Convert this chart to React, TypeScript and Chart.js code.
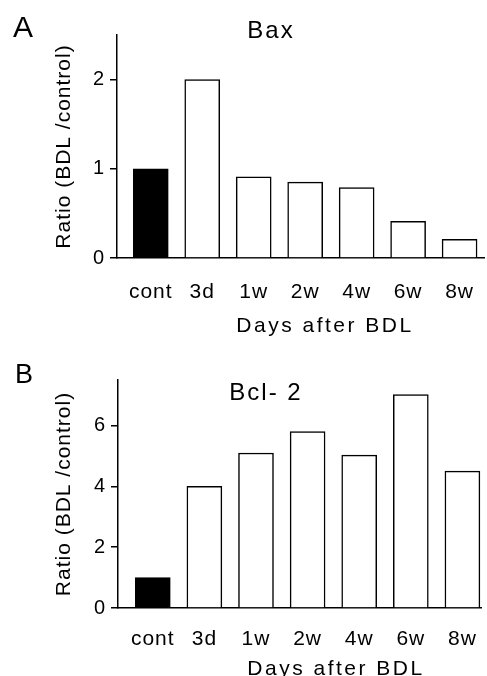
import React, { useEffect, useRef } from "react";
import { Chart, registerables } from "chart.js";

Chart.register(...registerables);

// ---- data ----
const categories = ["cont", "3d", "1w", "2w", "4w", "6w", "8w"];
const baxValues = [1.0, 2.0, 0.91, 0.85, 0.79, 0.41, 0.21];
const bcl2Values = [1.0, 4.0, 5.1, 5.8, 5.03, 7.02, 4.5];
const baxTicks = [0, 1, 2];
const bcl2Ticks = [0, 2, 4, 6];
const yAxisTitle = "Ratio (BDL /control)";
const xAxisTitle = "Days after BDL";

const FONT = "'Liberation Sans', Arial, Helvetica, sans-serif";

type TextItem = {
  text: string;
  x: number;
  y: number;
  size: number;
  spacing: number;
  align: CanvasTextAlign;
};

type PanelCfg = {
  height: number;
  padTop: number;
  padRight: number;
  yWidth: number;
  xHeight: number;
  xMin: number;
  xMax: number;
  yMax: number;
  xTickPad: number;
  texts: TextItem[];
};

const panelA: PanelCfg = {
  height: 345,
  padTop: 35,
  padRight: 0,
  yWidth: 117,
  xHeight: 87,
  xMin: -0.656,
  xMax: 6.48,
  yMax: 2.5,
  xTickPad: 14,
  texts: [
    { text: "A", x: 13, y: 37, size: 30, spacing: 0, align: "left" },
    { text: "Bax", x: 271, y: 38, size: 24, spacing: 2, align: "center" },
    { text: xAxisTitle, x: 325, y: 332, size: 21, spacing: 2.5, align: "center" },
  ],
};

const panelB: PanelCfg = {
  height: 331,
  padTop: 35,
  padRight: 3,
  yWidth: 118,
  xHeight: 68,
  xMin: -0.674,
  xMax: 6.378,
  yMax: 7.5,
  xTickPad: 11,
  texts: [
    { text: "B", x: 15, y: 38, size: 27, spacing: 0, align: "left" },
    { text: "Bcl- 2", x: 266, y: 55, size: 24, spacing: 2, align: "center" },
    { text: xAxisTitle, x: 336, y: 330, size: 21, spacing: 2.5, align: "center" },
  ],
};

function makeTextPlugin(items: TextItem[]) {
  return {
    id: "panelText",
    beforeDraw(chart: any) {
      (chart.ctx as any).letterSpacing = "1px";
    },
    afterDraw(chart: any) {
      const ctx = chart.ctx as CanvasRenderingContext2D;
      for (const t of items) {
        ctx.save();
        ctx.font = `${t.size}px ${FONT}`;
        (ctx as any).letterSpacing = `${t.spacing}px`;
        ctx.fillStyle = "#000";
        ctx.textAlign = t.align;
        ctx.textBaseline = "alphabetic";
        ctx.fillText(t.text, t.x, t.y);
        ctx.restore();
      }
    },
  };
}

function Panel({ cfg, values, yTicks }: { cfg: PanelCfg; values: number[]; yTicks: number[] }) {
  const ref = useRef<HTMLCanvasElement>(null);
  useEffect(() => {
    const chart = new Chart(ref.current as HTMLCanvasElement, {
      type: "bar",
      data: {
        datasets: [
          {
            data: values.map((v, i) => ({ x: i, y: v })),
            backgroundColor: values.map((_, i) => (i === 0 ? "#000" : "#fff")),
            borderColor: "#000",
            borderWidth: 1.5,
            barThickness: 35,
          } as any,
        ],
      },
      options: {
        animation: false,
        responsive: false,
        devicePixelRatio: 1,
        events: [],
        layout: { padding: { top: cfg.padTop, right: cfg.padRight, left: 0, bottom: 0 } },
        plugins: {
          legend: { display: false },
          tooltip: { enabled: false },
          title: { display: false },
        },
        scales: {
          x: {
            type: "linear",
            offset: false,
            min: cfg.xMin,
            max: cfg.xMax,
            grid: { display: false, offset: false },
            border: { display: true, color: "#000", width: 1.5 },
            ticks: {
              autoSkip: false,
              maxRotation: 0,
              color: "#000",
              padding: cfg.xTickPad,
              font: { family: FONT, size: 21 },
              callback: (v: any) => categories[Number(v)] ?? "",
            },
            afterBuildTicks: (s: any) => {
              s.ticks = categories.map((_, i) => ({ value: i }));
            },
            afterFit: (s: any) => {
              s.height = cfg.xHeight;
            },
          },
          y: {
            type: "linear",
            min: 0,
            max: cfg.yMax,
            grid: {
              display: true,
              drawOnChartArea: false,
              drawTicks: true,
              tickLength: 7,
              color: "#000",
              lineWidth: 1.5,
            },
            border: { display: true, color: "#000", width: 1.5 },
            ticks: {
              color: "#000",
              padding: 5,
              font: { family: FONT, size: 20 },
            },
            title: {
              display: true,
              text: yAxisTitle,
              color: "#000",
              font: { family: FONT, size: 21 },
              padding: { top: 52, bottom: 0 },
            },
            afterBuildTicks: (s: any) => {
              s.ticks = yTicks.map((v) => ({ value: v }));
            },
            afterFit: (s: any) => {
              s.width = cfg.yWidth;
            },
          },
        },
      } as any,
      plugins: [makeTextPlugin(cfg.texts)],
    });
    return () => chart.destroy();
  }, []);
  return (
    <canvas
      ref={ref}
      width={487}
      height={cfg.height}
      style={{ display: "block", width: 487, height: cfg.height }}
    />
  );
}

export default function App() {
  return (
    <div style={{ position: "absolute", left: 0, top: 0, width: 487, height: 676, background: "#fff" }}>
      <Panel cfg={panelA} values={baxValues} yTicks={baxTicks} />
      <Panel cfg={panelB} values={bcl2Values} yTicks={bcl2Ticks} />
    </div>
  );
}
